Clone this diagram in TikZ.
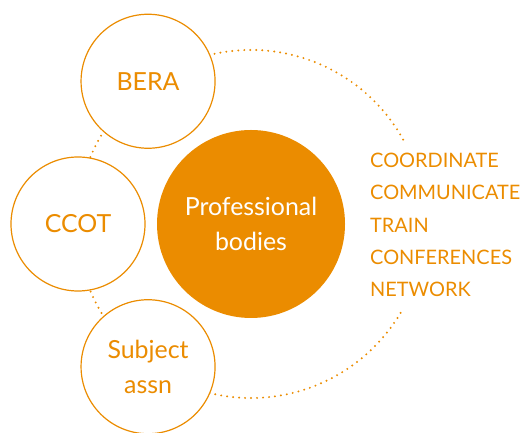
\documentclass[tikz,border=0pt]{standalone}
\usepackage{fontspec}
\setmainfont{Lato}
\usetikzlibrary{calc,positioning}

\definecolor{bodyorange}{RGB}{235,140,0}

\begin{document}
\begin{tikzpicture}
          [ x=1bp, y=1bp,
            member/.style={
              circle,
              draw=bodyorange,
              fill=white,
              line width=1.2bp,
              minimum size=134bp,
              inner sep=0pt,
              align=center,
              text=bodyorange,
              font=\fontsize{25}{35}\selectfont},
            hub/.style={
              circle,
              fill=bodyorange,
              minimum size=188bp,
              inner sep=0pt,
              align=center,
              text=white,
              font=\fontsize{25}{35}\selectfont},
            ring/.style={
              draw=bodyorange,
              line width=2.2bp,
              line cap=round,
              dash pattern=on 0bp off 6bp},
          ]

          \useasboundingbox (0,0) rectangle (523,433);

          \node (prof) [hub] at (251,209) {Professional\\bodies};

          % dotted ring behind the member circles
          \draw[ring] ($(prof.center)+(29:174)$) arc[start angle=29, end angle=331, radius=174];

          \node (bera) [member] at ($(prof.center)+(125.8:176)$) {BERA};
          \node (ccot) [member] at ($(prof.center)+(180:173)$) {CCOT};
          \node (subj) [member] at ($(prof.center)+(-125.8:176)$) {Subject\\assn};

          \node (tasks) [anchor=west, align=left, inner sep=0pt, text=bodyorange,
                         font=\fontsize{20}{32.3}\selectfont]
                at (370,208) {COORDINATE\\COMMUNICATE\\TRAIN\\CONFERENCES\\NETWORK};

        \end{tikzpicture}
\end{document}
